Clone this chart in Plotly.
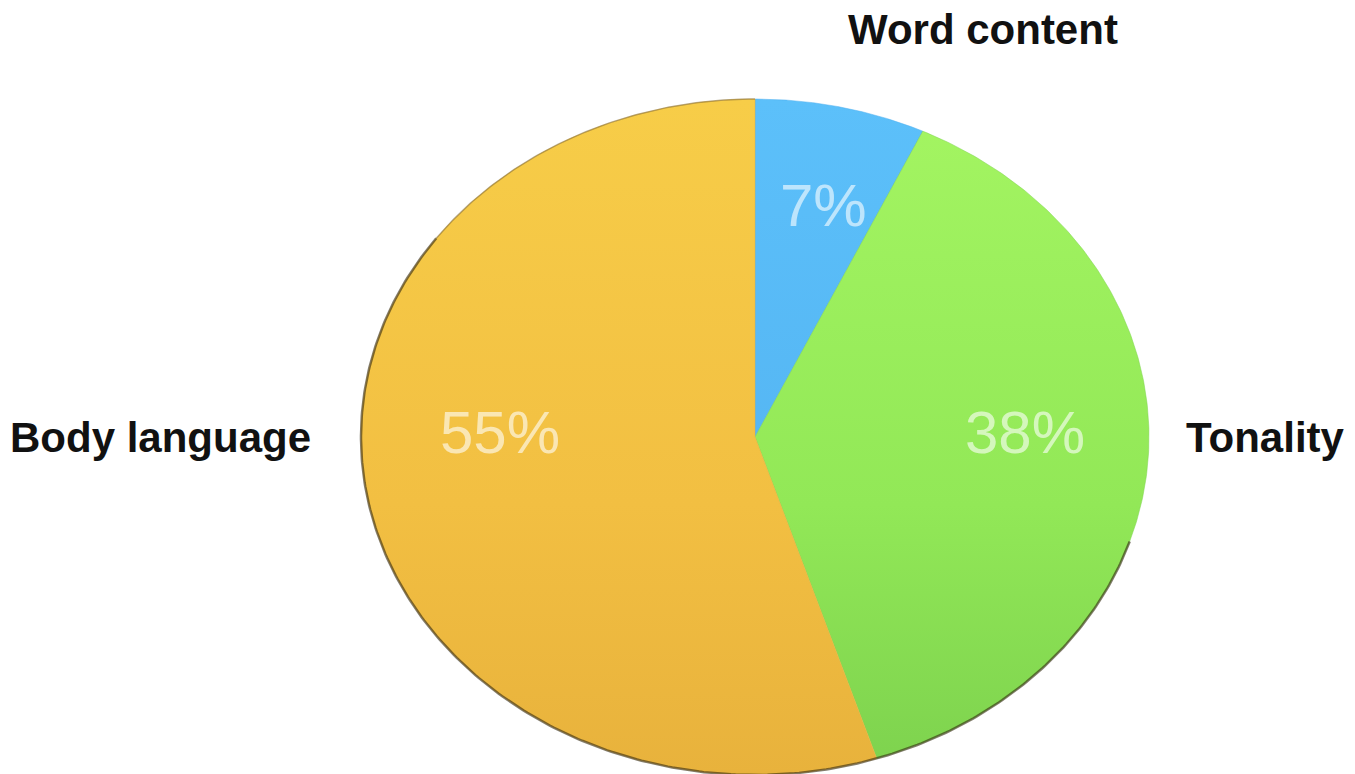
import numpy as np
import plotly.graph_objects as go

# ---- data ----
categories = ["Word content", "Tonality", "Body language"]
values = [7, 38, 55]
pct_labels = ["7%", "38%", "55%"]

# ---- style / layout ----
grad = [
    [[0, "#5CC0FA"], [1, "#4FAEEE"]],
    [[0, "#A4F562"], [0.6, "#92E857"], [1, "#7DD24E"]],
    [[0, "#F7CD48"], [0.6, "#F2BF42"], [1, "#E8B23C"]],
]
W, H = 1355, 774
CX, CY, RX, RY = 755, 437, 394, 338
FONT = "Liberation Sans, Arial, Helvetica, sans-serif"
outer_label_pos = {"Word content": (983, 29, "center"),
                   "Tonality": (1347, 437, "right"),
                   "Body language": (8, 437, "left")}
pct_label_pos = {"Word content": (823, 205), "Tonality": (1025, 432), "Body language": (500, 432)}

fig = go.Figure()
total = float(sum(values))
start = 0.0
annotations = []
for cat, v, cs, lab in zip(categories, values, grad, pct_labels):
    span = v / total * 2 * np.pi
    t = np.linspace(start, start + span, 240)
    xs = np.concatenate([[CX], CX + RX * np.sin(t), [CX]])
    ys = np.concatenate([[CY], CY - RY * np.cos(t), [CY]])
    fig.add_trace(go.Scatter(
        x=xs, y=ys, mode="lines", fill="toself", fillcolor=cs[0][1],
        fillgradient=dict(type="vertical", colorscale=cs, start=CY - RY, stop=CY + RY),
        line=dict(width=0.5, color=cs[-1][1]), name=cat,
        hoverinfo="text", text=f"{cat}: {lab}", showlegend=False))
    px, py = pct_label_pos[cat]
    annotations.append(dict(
        x=px, y=py, xref="x", yref="y", text=lab, showarrow=False,
        font=dict(family=FONT, size=60, color="rgba(255,255,255,0.6)")))
    start += span

# darker rim along the lower edge
t = np.linspace(np.pi * 0.6, np.pi * 1.7, 300)
fig.add_trace(go.Scatter(
    x=CX + RX * np.sin(t), y=CY - RY * np.cos(t), mode="lines",
    line=dict(width=2.5, color="rgba(50,40,15,0.6)"), hoverinfo="skip", showlegend=False))
t = np.linspace(np.pi * 1.7, np.pi * 2.0, 120)
fig.add_trace(go.Scatter(
    x=CX + RX * np.sin(t), y=CY - RY * np.cos(t), mode="lines",
    line=dict(width=1.5, color="rgba(120,100,50,0.5)"), hoverinfo="skip", showlegend=False))

for cat in categories:
    px, py, anc = outer_label_pos[cat]
    annotations.append(dict(
        x=px, y=py, xref="x", yref="y", xanchor=anc, text=f"<b>{cat}</b>", showarrow=False,
        font=dict(family=FONT, size=42, color="#111111")))

fig.update_layout(
    width=W, height=H, margin=dict(l=0, r=0, t=0, b=0),
    paper_bgcolor="white", plot_bgcolor="white",
    xaxis=dict(range=[0, W], visible=False, fixedrange=True),
    yaxis=dict(range=[H, 0], visible=False, fixedrange=True),
    annotations=annotations,
)

fig.write_html("out.html", config={"displayModeBar": False},
               post_script="document.body.style.margin='0px';document.body.style.overflow='hidden';")
